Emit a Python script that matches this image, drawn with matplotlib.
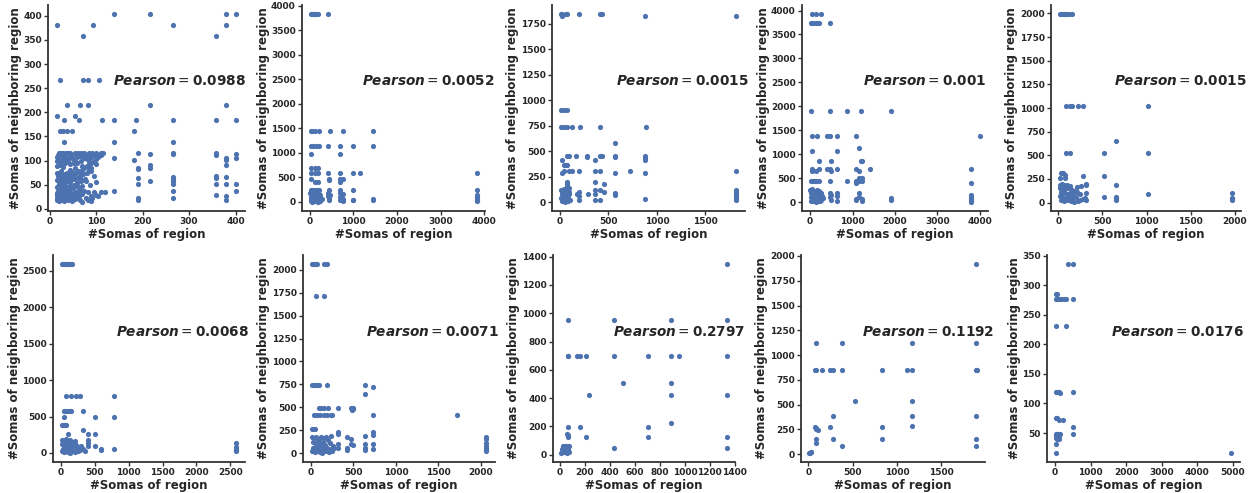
import matplotlib
matplotlib.use("Agg")
import matplotlib.pyplot as plt
from matplotlib.ticker import MultipleLocator

plt.rcParams['font.family'] = ['DejaVu Sans']
plt.rcParams['mathtext.fontset'] = 'dejavusans'

pearson = ["0.0988", "0.0052", "0.0015", "0.001", "0.0015",
           "0.0068", "0.0071", "0.2797", "0.1192", "0.0176"]

p1 = [(138,403),(215,403),(379,403),(401,403),(17,381),(93,381),(265,381),(379,381),
      (72,359),(357,359),(23,266),(72,266),(83,266),(107,266),
      (37,216),(66,216),(82,216),(215,216),(379,216),(17,192),(55,192),
      (32,185),(64,185),(112,185),(138,185),(185,185),(265,185),(357,185),(401,185),
      (23,162),(29,162),(37,162),(48,162),(181,162),(32,138),(138,138),(265,138),
      (190,116),(215,113),(265,116),(265,113),(357,116),(357,112),(401,113),
      (138,105),(379,106),(401,105),(181,101),(379,101),(215,90),(379,90),(190,84),(215,84),(190,83),
      (190,65),(265,66),(265,62),(357,65),(357,68),(379,66),(215,57),(265,57),(190,51),(265,52),
      (357,51),(379,51),(401,51),(138,37),(265,37),(401,37),(357,28),(379,27),(190,22),(265,22),
      (190,19),(379,18),
      (20,116),(25,116),(30,116),(35,116),(40,116),(45,116),(55,116),(62,116),(68,116),(75,116),
      (85,116),(92,116),(100,116),(110,116),(18,112),(27,112),(48,112),(60,112),(72,112),(88,112),(105,112),
      (95,100),(100,104),(105,108),(90,96),(85,92),(80,88),(75,84),(70,80),
      (17,88),(22,90),(30,86),(45,92),(60,95),(70,88),(90,85),
      (18,68),(25,65),(33,63),(40,66),(50,70),(55,62),(65,68),(72,72),(80,75),(95,68),
      (20,52),(27,50),(35,48),(45,55),(52,50),(60,53),(68,57),(78,58),(88,50),(100,55),
      (18,38),(24,35),(31,40),(42,38),(50,43),(58,36),(66,40),(75,38),(82,36),(95,36),(110,36),(120,36),
      (17,28),(22,25),(28,30),(35,26),(44,29),(52,24),(63,27),(70,30),(78,22),(90,26),(100,28),(105,26),
      (16,18),(20,16),(26,20),(32,17),(40,19),(48,16),(55,20),(65,18),(70,15),(82,18),(90,17),(92,22),
      (40,100),(50,104),(60,108),(30,110),(45,80),(55,85),(38,75),(62,78),(25,78),(100,92),
      (110,112),(115,116),(85,100),(75,105),(65,110),
      (16,22),(19,24),(23,19),(27,23),(30,21),(34,23),(38,25),(42,21),(46,24),(50,20),(54,27),(58,22),
      (16,32),(20,30),(24,32),(28,34),(32,30),(36,33),(40,31),(44,34),(48,30),(52,33),(56,31),(60,34),
      (16,45),(20,44),(24,42),(28,46),(32,44),(36,42),(40,46),(44,48),(48,46),(56,47),(62,45),(70,48),
      (16,60),(20,58),(24,60),(28,58),(32,56),(38,58),(44,60),(48,62),(60,63),(66,63),(76,62),
      (16,75),(20,72),(28,70),(34,72),(42,70),(48,76),(56,74),(66,76),(84,80),(90,78),
      (16,100),(20,104),(24,98),(28,102),(34,96),(56,98),(68,100),(80,104),(90,108),(96,112),
      (17,108),(35,106),(44,108),(52,95),(78,112),(84,114)]

p2 = [(15,3820),(40,3820),(65,3820),(90,3820),(115,3820),(140,3820),(190,3820),(408,3820),
      (15,1440),(60,1440),(120,1440),(210,1440),(460,1440),(750,1440),(1460,1440),
      (15,1140),(80,1140),(140,1140),(210,1140),(408,1140),(690,1140),(985,1140),(1460,1140),
      (15,985),(690,985),(15,700),(110,700),(180,700),
      (15,590),(110,590),(180,590),(408,590),(690,590),(985,590),(1150,590),(3830,590),
      (15,470),(440,470),(690,470),(750,470),(440,450),(110,410),(690,410),(180,410),
      (15,250),(50,250),(90,250),(130,250),(180,250),(210,250),(440,250),(690,250),(985,250),(3830,250),
      (10,180),(30,200),(60,150),(90,190),(120,160),(150,200),(200,170),(240,140),(20,100),(50,120),
      (80,90),(110,110),(140,80),(170,130),(210,100),(260,60),(15,40),(40,60),(70,30),(100,50),
      (130,20),(160,40),(190,70),(230,30),(280,50),(25,10),(55,5),(85,15),(115,8),(145,12),
      (175,5),(205,18),(240,8),
      (408,180),(408,120),(440,80),(440,30),(460,150),(690,180),(690,100),(690,40),(750,160),
      (750,60),(750,10),(985,40),(985,30),(1460,50),(1460,40),
      (3830,150),(3830,100),(3830,70),(3830,40),(3830,10)]

p3 = [(7,1840),(24,1840),(59,1840),(76,1840),(197,1840),(414,1840),(431,1840),(24,1820),(880,1820),(1820,1820),
      (7,900),(41,900),(76,900),(14,740),(41,740),(76,740),(128,740),(204,740),(414,740),(890,740),
      (570,575),(76,450),(93,450),(162,450),(283,450),(414,450),(438,450),(570,450),(880,450),
      (283,440),(570,440),(880,430),(24,415),(362,415),(880,410),(41,360),(59,360),(76,360),
      (41,310),(93,310),(128,310),(197,310),(362,310),(414,310),(724,310),(1820,310),
      (24,290),(570,290),(880,290),(76,200),(362,200),(76,175),(449,175),
      (7,120),(24,110),(41,125),(59,105),(76,115),(93,95),(15,80),(35,70),(50,85),(70,60),(90,75),
      (10,40),(30,30),(45,50),(65,25),(80,40),(100,20),(20,10),(55,5),(85,10),(76,160),(93,140),(76,50),
      (197,100),(197,60),(197,20),(175,80),(290,80),(362,120),(362,80),(362,20),(414,120),(414,20),
      (449,100),(570,90),(570,70),(880,30),
      (1820,120),(1820,90),(1820,70),(1820,50),(1820,35),(1820,20)]

p4 = [(50,3920),(130,3920),(250,3920),(15,3740),(80,3740),(130,3740),(170,3740),(220,3740),(460,3740),
      (15,1910),(460,1910),(880,1910),(1200,1910),(1910,1910),
      (55,1380),(170,1380),(400,1380),(460,1380),(640,1380),(1080,1380),(3990,1380),
      (1160,1140),(40,1070),(640,1070),(210,860),(500,860),(1200,860),(1230,860),
      (40,690),(210,690),(400,690),(460,690),(640,690),(1080,690),(1410,690),(3780,690),
      (40,640),(130,640),(500,640),(1160,640),
      (15,450),(60,450),(100,450),(150,450),(200,450),(460,450),(880,450),(1080,450),(1160,450),
      (1230,450),(1160,500),(1230,500),(1080,390),(3780,390),(1160,200),
      (10,250),(40,270),(80,240),(120,220),(160,260),(200,230),(250,200),(20,180),(60,150),(100,190),
      (140,160),(180,130),(230,170),(280,120),(15,100),(50,80),(90,110),(130,70),(170,90),(210,60),
      (260,40),(300,80),(25,30),(70,20),(110,40),(150,10),(190,25),(240,15),
      (460,200),(460,100),(500,150),(500,40),(640,200),(640,120),(640,30),(1080,60),(1080,40),
      (1160,100),(1230,60),(1230,20),(1910,80),(1910,40),
      (3780,140),(3780,110),(3780,70),(3780,40),(3780,10)]

p5 = [(20,1990),(40,1990),(60,1990),(80,1990),(100,1990),(120,1990),(150,1990),
      (87,1020),(132,1020),(151,1020),(219,1020),(283,1020),(1011,1020),
      (87,520),(132,520),(517,520),(1011,520),(653,653),(283,283),(517,283),
      (30,310),(57,310),(75,290),(20,260),(75,260),
      (20,190),(45,195),(70,190),(100,185),(135,180),(313,190),(653,190),(207,170),(260,175),(313,200),
      (1011,90),(1970,100),(517,60),(653,60),(653,45),(653,30),(1970,50),(1970,40),(1970,25),
      (15,150),(35,160),(55,140),(80,170),(110,150),(150,130),(180,120),(25,110),(50,100),(70,120),
      (100,90),(130,100),(170,80),(210,110),(250,90),(313,100),(20,70),(45,60),(85,50),(120,60),
      (160,40),(200,60),(240,30),(300,50),(313,30),(30,30),(60,20),(100,25),(140,15),(180,10),
      (220,20),(280,40)]

p6 = [(20,2590),(40,2590),(60,2590),(80,2590),(100,2590),(120,2590),(140,2590),(160,2590),
      (74,785),(147,785),(220,785),(284,785),(784,785),
      (50,580),(75,580),(100,580),(125,580),(150,580),(319,580),(49,500),(505,500),(784,500),
      (20,390),(40,390),(60,390),(80,390),(319,310),(98,260),(402,260),(505,260),
      (402,180),(402,140),(402,100),(505,100),(588,60),(588,40),(784,60),
      (2590,130),(2590,80),(2590,60),(2590,40),(2590,20),
      (10,180),(40,170),(70,190),(100,160),(130,180),(160,150),(200,170),(20,120),(50,110),(80,130),
      (110,100),(140,120),(170,90),(220,110),(260,80),(300,100),(30,60),(60,50),(90,70),(120,40),
      (150,60),(190,30),(230,50),(280,40),(320,60),(15,20),(45,10),(75,25),(105,15),(135,5),
      (165,20),(200,10),(250,20),(350,30)]

p7 = [(10,2060),(30,2060),(50,2060),(70,2060),(157,2060),(188,2060),(59,1720),(149,1720),
      (8,740),(30,740),(55,740),(80,740),(98,740),(188,740),(640,740),(725,725),(640,640),
      (98,490),(120,490),(150,490),(196,490),(314,490),(470,490),(490,490),(500,480),(480,475),
      (40,420),(70,420),(100,420),(150,420),(190,420),(230,420),(250,420),(725,420),(1725,420),
      (10,260),(30,260),(50,260),(314,230),(314,210),(725,230),(725,200),(640,190),
      (2066,170),(2066,150),(2066,110),(2066,80),(2066,60),(2066,40),(2066,20),
      (725,100),(725,40),(640,100),(640,60),(640,30),(470,100),(500,90),(470,150),(420,180),
      (420,60),(420,30),(314,100),(314,60),
      (10,180),(30,160),(60,170),(90,150),(120,180),(150,160),(180,170),(200,140),(240,190),
      (20,120),(50,110),(80,130),(110,100),(140,120),(170,90),(220,110),(260,80),(20,60),(40,50),
      (70,70),(100,40),(130,60),(160,30),(190,50),(230,40),(270,60),(15,20),(45,10),(75,25),
      (105,15),(135,5),(175,20),(210,10),(250,25)]

p8 = [(1335,1345),(60,955),(432,955),(885,955),(1335,955),
      (60,700),(64,700),(136,700),(162,700),(209,700),(432,700),(701,700),(885,700),(955,700),(1335,700),
      (505,505),(885,505),(235,425),(885,425),(1335,425),(885,225),(60,195),(157,195),(701,195),
      (209,125),(701,125),(1335,125),(60,125),(52,145),(64,140),(432,45),(1335,45),
      (10,15),(20,25),(30,40),(40,60),(50,50),(60,30),(70,60),(25,60),(35,20),(45,35),(55,15),
      (65,45),(15,40),(30,55),(50,65),(70,20)]

p9 = [(1894,1915),(83,1125),(379,1125),(1174,1125),(1894,1125),
      (75,845),(83,845),(152,845),(246,845),(273,845),(379,845),(833,845),(1117,845),(1174,845),
      (1894,845),(1900,850),(523,535),(1174,535),(273,380),(1174,380),(1894,380),(1174,280),
      (75,270),(83,260),(246,270),(833,270),(83,250),(110,245),
      (83,155),(273,155),(833,155),(1894,155),(83,110),(379,80),(1894,80),
      (10,15),(20,15),(30,18),(25,20)]

p10 = [(350,335),(491,335),(19,285),(66,285),
       (19,277),(50,277),(100,277),(160,277),(255,277),(302,277),(491,277),(19,231),(302,231),
       (19,119),(66,119),(113,119),(491,119),(132,117),(19,75),(66,75),(113,72),(227,72),(491,61),
       (19,49),(50,49),(80,48),(113,49),(140,49),(491,49),(19,45),(66,45),(113,45),(30,42),(80,41),
       (50,40),(100,40),(19,32),(19,17),(4950,17)]

panels = [p1, p2, p3, p4, p5, p6, p7, p8, p9, p10]
x_steps = [100, 1000, 500, 1000, 500, 500, 500, 200, 500, 1000]
y_steps = [50, 500, 250, 500, 250, 500, 250, 200, 250, 50]

W, H = 1258, 493
# axes boxes in pixels: left, top, right, bottom
boxes = [(48, 5, 245, 211), (302, 5, 485, 211), (552, 5, 745, 211), (802, 5, 988, 211), (1051, 5, 1241, 211),
         (53, 255, 245, 462), (303, 255, 495, 462), (553, 255, 735, 462), (801, 255, 985, 462), (1047, 255, 1240, 462)]

fig = plt.figure(figsize=(W / 100, H / 100), dpi=100)
col = '#4C72B0'
spc = '#333333'
for i, pts in enumerate(panels):
    l, t, r, b = boxes[i]
    ax = fig.add_axes([l / W, 1 - b / H, (r - l) / W, (b - t) / H])
    xs = [p[0] for p in pts]
    ys = [p[1] for p in pts]
    ax.scatter(xs, ys, s=14, color=col, linewidths=0)
    ax.xaxis.set_major_locator(MultipleLocator(x_steps[i]))
    ax.yaxis.set_major_locator(MultipleLocator(y_steps[i]))
    for s in ['top', 'right']:
        ax.spines[s].set_visible(False)
    for s in ['left', 'bottom']:
        ax.spines[s].set_color(spc)
        ax.spines[s].set_linewidth(1.3)
    ax.tick_params(axis='both', direction='out', length=3, width=1, color=spc,
                   labelsize=6.5, labelcolor='#262626', pad=1.5)
    for lab in ax.get_xticklabels() + ax.get_yticklabels():
        lab.set_fontweight('bold')
    ax.set_xlabel('#Somas of region', fontsize=8.5, fontweight='bold', color='#262626', labelpad=1)
    ax.set_ylabel('#Somas of neighboring region', fontsize=8.5, fontweight='bold', color='#262626', labelpad=1)
    ax.text(0.33, 0.63, r'$\mathbfit{Pearson} = \mathbf{' + pearson[i] + '}$', transform=ax.transAxes,
            fontsize=9.8, va='center', ha='left', color='#262626')

fig.savefig('out.png', dpi=100)
